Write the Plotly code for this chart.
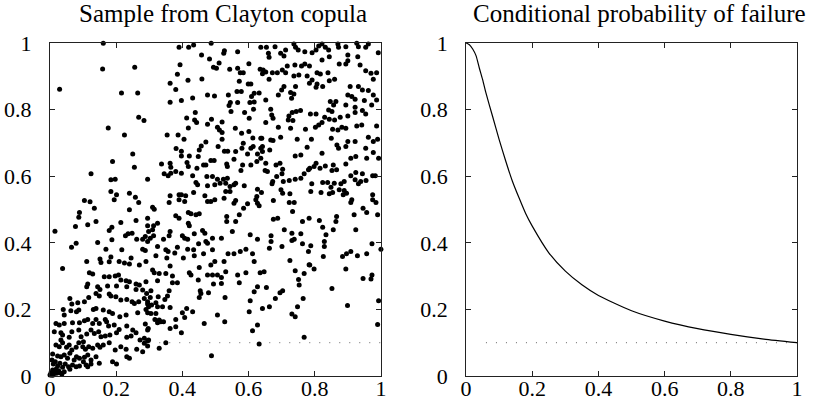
import plotly.graph_objs as go

# --- Sample from the Clayton copula (u, v) ---
sample_uv = [
    # upper left
    (0.161, 0.999), (0.159, 0.922), (0.256, 0.927), (0.029, 0.861), (0.216, 0.850),
    (0.265, 0.850), (0.268, 0.777), (0.284, 0.767), (0.176, 0.745), (0.225, 0.724),
    (0.250, 0.667),
    # upper middle
    (0.390, 0.987), (0.419, 0.987), (0.434, 0.994), (0.487, 0.999), (0.527, 0.977),
    (0.525, 0.969), (0.567, 0.974), (0.637, 0.987), (0.458, 0.964), (0.482, 0.952),
    (0.511, 0.940), (0.393, 0.935), (0.494, 0.927), (0.503, 0.924), (0.601, 0.938),
    (0.543, 0.921), (0.567, 0.924), (0.575, 0.911), (0.584, 0.911), (0.635, 0.921),
    (0.642, 0.908), (0.385, 0.906), (0.417, 0.888), (0.459, 0.892), (0.363, 0.879),
    (0.572, 0.885), (0.599, 0.877), (0.607, 0.877), (0.380, 0.860), (0.565, 0.854),
    (0.578, 0.854), (0.539, 0.844), (0.476, 0.844), (0.497, 0.841), (0.431, 0.835),
    (0.397, 0.827), (0.363, 0.822), (0.617, 0.849), (0.609, 0.839), (0.632, 0.850),
    (0.604, 0.821), (0.617, 0.823), (0.545, 0.821), (0.541, 0.812), (0.567, 0.821),
    (0.439, 0.791), (0.413, 0.775), (0.437, 0.769), (0.443, 0.761), (0.476, 0.756),
    (0.488, 0.771), (0.520, 0.763), (0.588, 0.791), (0.615, 0.801), (0.602, 0.774),
    (0.547, 0.794), (0.418, 0.745), (0.506, 0.747), (0.512, 0.739), (0.520, 0.731),
    (0.560, 0.744), (0.579, 0.729), (0.601, 0.734), (0.354, 0.724), (0.387, 0.724),
    (0.405, 0.711), (0.520, 0.711), (0.613, 0.715), (0.637, 0.714), (0.471, 0.703),
    (0.457, 0.691), (0.451, 0.679), (0.381, 0.683), (0.397, 0.675), (0.508, 0.689),
    (0.527, 0.675), (0.537, 0.675), (0.580, 0.684), (0.607, 0.684), (0.614, 0.689),
    (0.584, 0.699), (0.637, 0.684), (0.597, 0.667), (0.627, 0.667),
    # upper right
    (0.654, 0.987), (0.680, 0.989), (0.660, 0.969), (0.662, 0.957), (0.697, 0.969),
    (0.707, 0.961), (0.712, 0.979), (0.737, 0.997), (0.742, 0.987), (0.750, 0.979),
    (0.770, 0.974), (0.792, 0.971), (0.804, 0.979), (0.812, 0.991), (0.822, 0.997),
    (0.832, 0.987), (0.842, 0.979), (0.844, 0.959), (0.870, 0.997), (0.872, 0.987),
    (0.894, 0.989), (0.900, 0.964), (0.927, 0.999), (0.932, 0.989), (0.930, 0.959),
    (0.954, 0.987), (0.962, 0.997), (0.992, 0.971), (0.644, 0.919), (0.652, 0.913),
    (0.672, 0.911), (0.687, 0.911), (0.702, 0.919), (0.712, 0.911), (0.717, 0.931),
    (0.740, 0.934), (0.760, 0.931), (0.770, 0.937), (0.784, 0.931), (0.807, 0.911),
    (0.817, 0.907), (0.822, 0.949), (0.840, 0.911), (0.844, 0.887), (0.874, 0.937),
    (0.894, 0.937), (0.900, 0.947), (0.937, 0.934), (0.954, 0.917), (0.970, 0.909),
    (0.977, 0.891), (0.987, 0.911), (0.662, 0.891), (0.737, 0.901), (0.752, 0.904),
    (0.777, 0.901), (0.792, 0.889), (0.807, 0.877), (0.804, 0.867), (0.860, 0.891),
    (0.907, 0.869), (0.932, 0.869), (0.944, 0.859), (0.962, 0.857), (0.977, 0.844),
    (0.987, 0.829), (0.700, 0.859), (0.707, 0.869), (0.690, 0.844), (0.727, 0.851),
    (0.737, 0.847), (0.730, 0.834), (0.742, 0.869), (0.784, 0.879), (0.824, 0.869),
    (0.847, 0.824), (0.857, 0.814), (0.842, 0.799), (0.852, 0.794), (0.864, 0.824),
    (0.900, 0.844), (0.912, 0.839), (0.922, 0.831), (0.894, 0.814), (0.922, 0.807),
    (0.950, 0.827), (0.972, 0.814), (0.652, 0.829), (0.667, 0.801), (0.670, 0.784),
    (0.652, 0.761), (0.674, 0.774), (0.722, 0.781), (0.732, 0.791), (0.744, 0.794),
    (0.757, 0.797), (0.720, 0.769), (0.734, 0.767), (0.787, 0.787), (0.804, 0.787),
    (0.822, 0.761), (0.830, 0.777), (0.844, 0.771), (0.860, 0.769), (0.877, 0.777),
    (0.900, 0.781), (0.922, 0.791), (0.944, 0.797), (0.954, 0.787), (0.987, 0.751),
    (0.690, 0.747), (0.727, 0.744), (0.772, 0.741), (0.802, 0.747), (0.812, 0.754),
    (0.854, 0.741), (0.870, 0.739), (0.882, 0.747), (0.894, 0.744), (0.927, 0.751),
    (0.942, 0.754), (0.640, 0.714), (0.667, 0.709), (0.674, 0.707), (0.697, 0.717),
    (0.747, 0.711), (0.790, 0.711), (0.777, 0.687), (0.850, 0.714), (0.867, 0.694),
    (0.872, 0.684), (0.894, 0.689), (0.900, 0.704), (0.922, 0.704), (0.962, 0.717),
    (0.977, 0.704), (0.990, 0.711), (0.664, 0.679), (0.642, 0.689), (0.822, 0.669),
    (0.954, 0.684), (0.977, 0.671),
    # middle left
    (0.189, 0.644), (0.255, 0.627), (0.124, 0.607), (0.184, 0.589), (0.197, 0.591),
    (0.295, 0.591), (0.184, 0.554), (0.201, 0.544), (0.194, 0.529), (0.240, 0.549),
    (0.258, 0.537), (0.268, 0.521), (0.104, 0.527), (0.121, 0.523), (0.134, 0.504),
    (0.089, 0.491), (0.087, 0.477), (0.077, 0.449), (0.114, 0.454), (0.139, 0.464),
    (0.214, 0.461), (0.240, 0.499), (0.260, 0.467), (0.295, 0.474), (0.015, 0.435),
    (0.179, 0.437), (0.187, 0.447), (0.187, 0.409), (0.228, 0.421), (0.236, 0.427),
    (0.248, 0.429), (0.262, 0.411), (0.280, 0.411), (0.295, 0.451), (0.298, 0.434),
    (0.288, 0.419), (0.065, 0.387), (0.079, 0.399), (0.144, 0.401), (0.169, 0.381),
    (0.217, 0.379), (0.245, 0.354), (0.184, 0.357), (0.280, 0.381), (0.288, 0.377),
    (0.295, 0.404), (0.111, 0.344), (0.151, 0.351), (0.154, 0.341), (0.209, 0.344),
    (0.225, 0.339), (0.290, 0.344),
    # centre
    (0.397, 0.661), (0.421, 0.661), (0.448, 0.659), (0.561, 0.674), (0.642, 0.674),
    (0.337, 0.637), (0.363, 0.639), (0.365, 0.627), (0.380, 0.614), (0.365, 0.609),
    (0.357, 0.601), (0.345, 0.607), (0.397, 0.609), (0.414, 0.641), (0.418, 0.629),
    (0.444, 0.624), (0.464, 0.634), (0.471, 0.634), (0.486, 0.647), (0.496, 0.647),
    (0.534, 0.637), (0.536, 0.629), (0.556, 0.651), (0.582, 0.634), (0.577, 0.617),
    (0.607, 0.634), (0.625, 0.644), (0.637, 0.654), (0.431, 0.601), (0.474, 0.599),
    (0.491, 0.599), (0.506, 0.591), (0.514, 0.579), (0.524, 0.591), (0.531, 0.579),
    (0.536, 0.594), (0.544, 0.569), (0.556, 0.574), (0.561, 0.579), (0.587, 0.571),
    (0.441, 0.581), (0.446, 0.574), (0.476, 0.571), (0.498, 0.574), (0.531, 0.554),
    (0.544, 0.554), (0.627, 0.561), (0.639, 0.551), (0.625, 0.539), (0.363, 0.541),
    (0.360, 0.521), (0.390, 0.544), (0.397, 0.544), (0.410, 0.541), (0.407, 0.524),
    (0.390, 0.529), (0.434, 0.551), (0.468, 0.541), (0.476, 0.524), (0.486, 0.524),
    (0.498, 0.529), (0.526, 0.534), (0.561, 0.527), (0.556, 0.519), (0.622, 0.529),
    (0.627, 0.519), (0.632, 0.511), (0.310, 0.507), (0.315, 0.501), (0.380, 0.481),
    (0.390, 0.474), (0.418, 0.491), (0.426, 0.487), (0.441, 0.484), (0.451, 0.487),
    (0.418, 0.459), (0.421, 0.451), (0.534, 0.479), (0.534, 0.464), (0.561, 0.464),
    (0.572, 0.484), (0.585, 0.504), (0.597, 0.517), (0.313, 0.451), (0.325, 0.459),
    (0.310, 0.439), (0.303, 0.414), (0.313, 0.421), (0.343, 0.411), (0.360, 0.421),
    (0.363, 0.434), (0.400, 0.421), (0.407, 0.414), (0.416, 0.411), (0.436, 0.427),
    (0.461, 0.437), (0.468, 0.429), (0.471, 0.404), (0.491, 0.414), (0.518, 0.414),
    (0.551, 0.434), (0.605, 0.424), (0.627, 0.411), (0.325, 0.389), (0.350, 0.379),
    (0.357, 0.374), (0.385, 0.387), (0.416, 0.381), (0.434, 0.379), (0.449, 0.397),
    (0.476, 0.399), (0.491, 0.379), (0.538, 0.367), (0.556, 0.367), (0.575, 0.374),
    (0.592, 0.381), (0.612, 0.367), (0.320, 0.361), (0.353, 0.354), (0.377, 0.369),
    (0.403, 0.354), (0.436, 0.361), (0.464, 0.367), (0.498, 0.344), (0.526, 0.344),
    (0.617, 0.344),
    # middle right
    (0.741, 0.661), (0.758, 0.664), (0.909, 0.654), (0.924, 0.659), (0.957, 0.654),
    (0.993, 0.654), (0.652, 0.639), (0.650, 0.617), (0.657, 0.614), (0.683, 0.634),
    (0.695, 0.639), (0.703, 0.621), (0.701, 0.607), (0.685, 0.599), (0.673, 0.584),
    (0.671, 0.577), (0.705, 0.584), (0.723, 0.587), (0.741, 0.591), (0.758, 0.594),
    (0.768, 0.607), (0.781, 0.619), (0.785, 0.624), (0.798, 0.629), (0.804, 0.639),
    (0.816, 0.624), (0.832, 0.631), (0.856, 0.634), (0.852, 0.617), (0.866, 0.619),
    (0.894, 0.637), (0.909, 0.601), (0.924, 0.611), (0.944, 0.607), (0.939, 0.584),
    (0.955, 0.587), (0.975, 0.601), (0.983, 0.601), (0.922, 0.589), (0.932, 0.577),
    (0.889, 0.584), (0.879, 0.577), (0.859, 0.579), (0.675, 0.527), (0.698, 0.559),
    (0.703, 0.549), (0.725, 0.547), (0.723, 0.521), (0.738, 0.521), (0.788, 0.554),
    (0.791, 0.577), (0.819, 0.551), (0.824, 0.581), (0.839, 0.581), (0.849, 0.567),
    (0.844, 0.547), (0.854, 0.551), (0.874, 0.559), (0.889, 0.557), (0.886, 0.544),
    (0.896, 0.549), (0.912, 0.529), (0.909, 0.521), (0.975, 0.544), (0.975, 0.529),
    (0.985, 0.521), (0.733, 0.494), (0.946, 0.504), (0.957, 0.491), (0.990, 0.484),
    (0.919, 0.484), (0.675, 0.471), (0.688, 0.474), (0.763, 0.464), (0.783, 0.474),
    (0.814, 0.467), (0.866, 0.479), (0.864, 0.464), (0.824, 0.447), (0.856, 0.439),
    (0.924, 0.439), (0.708, 0.439), (0.731, 0.429), (0.758, 0.427), (0.738, 0.411),
    (0.731, 0.407), (0.834, 0.424), (0.668, 0.421), (0.668, 0.404), (0.663, 0.384),
    (0.701, 0.389), (0.763, 0.397), (0.788, 0.391), (0.829, 0.404), (0.829, 0.389),
    (0.781, 0.374), (0.826, 0.359), (0.973, 0.397), (1.000, 0.381), (0.884, 0.359),
    (0.896, 0.367), (0.909, 0.374), (0.929, 0.361), (0.957, 0.367), (0.725, 0.347),
    (0.783, 0.334),
    # lower left
    (0.038, 0.323), (0.179, 0.343), (0.240, 0.336), (0.270, 0.333), (0.119, 0.310),
    (0.129, 0.306), (0.164, 0.298), (0.179, 0.298), (0.197, 0.300), (0.207, 0.303),
    (0.214, 0.288), (0.230, 0.286), (0.240, 0.283), (0.260, 0.276), (0.270, 0.273),
    (0.290, 0.283), (0.114, 0.276), (0.111, 0.268), (0.144, 0.268), (0.151, 0.260),
    (0.174, 0.270), (0.201, 0.270), (0.232, 0.268), (0.260, 0.260), (0.280, 0.258),
    (0.292, 0.248), (0.060, 0.233), (0.066, 0.216), (0.084, 0.220), (0.104, 0.223),
    (0.117, 0.236), (0.139, 0.248), (0.149, 0.240), (0.179, 0.246), (0.184, 0.240),
    (0.199, 0.238), (0.214, 0.228), (0.232, 0.230), (0.248, 0.223), (0.255, 0.218),
    (0.268, 0.223), (0.285, 0.233), (0.295, 0.223), (0.040, 0.200), (0.043, 0.183),
    (0.063, 0.196), (0.080, 0.193), (0.087, 0.198), (0.131, 0.200), (0.139, 0.203),
    (0.161, 0.198), (0.179, 0.193), (0.189, 0.188), (0.211, 0.178), (0.230, 0.183),
    (0.265, 0.190), (0.290, 0.200), (0.298, 0.208), (0.018, 0.158), (0.028, 0.153),
    (0.013, 0.133), (0.043, 0.158), (0.068, 0.160), (0.089, 0.160), (0.104, 0.166),
    (0.114, 0.170), (0.129, 0.158), (0.139, 0.170), (0.149, 0.158), (0.167, 0.170),
    (0.171, 0.163), (0.177, 0.150), (0.194, 0.153), (0.209, 0.140), (0.232, 0.150),
    (0.250, 0.138), (0.260, 0.130), (0.288, 0.156), (0.295, 0.138), (0.033, 0.130),
    (0.033, 0.108), (0.038, 0.123), (0.058, 0.116), (0.066, 0.133), (0.087, 0.138),
    (0.094, 0.118), (0.101, 0.103), (0.111, 0.126), (0.124, 0.138), (0.134, 0.128),
    (0.147, 0.133), (0.154, 0.118), (0.167, 0.120), (0.181, 0.123), (0.201, 0.130),
    (0.232, 0.116), (0.245, 0.120), (0.272, 0.108), (0.285, 0.113), (0.018, 0.093),
    (0.028, 0.088), (0.038, 0.100), (0.050, 0.086), (0.058, 0.093), (0.066, 0.078),
    (0.079, 0.086), (0.087, 0.100), (0.099, 0.088), (0.107, 0.080), (0.117, 0.088),
    (0.129, 0.083), (0.144, 0.093), (0.151, 0.086), (0.161, 0.093), (0.179, 0.100),
    (0.197, 0.078), (0.214, 0.088), (0.230, 0.080), (0.240, 0.053), (0.262, 0.080),
    (0.285, 0.098), (0.298, 0.108), (0.008, 0.066), (0.023, 0.060), (0.033, 0.058),
    (0.043, 0.063), (0.053, 0.053), (0.060, 0.068), (0.073, 0.048), (0.080, 0.058),
    (0.089, 0.053), (0.104, 0.056), (0.114, 0.063), (0.124, 0.048), (0.139, 0.058),
    (0.149, 0.038), (0.189, 0.043), (0.201, 0.036), (0.232, 0.058), (0.280, 0.073),
    (0.006, 0.048), (0.010, 0.036), (0.016, 0.043), (0.023, 0.030), (0.030, 0.038),
    (0.038, 0.026), (0.046, 0.036), (0.056, 0.028), (0.060, 0.020), (0.068, 0.033),
    (0.079, 0.028), (0.089, 0.030), (0.101, 0.043), (0.109, 0.033), (0.114, 0.028),
    (0.124, 0.036), (0.000, 0.003), (0.003, 0.010), (0.008, 0.018), (0.013, 0.013),
    (0.018, 0.020), (0.020, 0.008), (0.026, 0.016), (0.030, 0.010), (0.036, 0.006),
    (0.043, 0.013), (0.006, 0.002), (0.010, 0.003),
    # lower middle
    (0.486, 0.333), (0.451, 0.326), (0.363, 0.330), (0.310, 0.318), (0.315, 0.310),
    (0.330, 0.308), (0.350, 0.308), (0.370, 0.300), (0.325, 0.286), (0.370, 0.280),
    (0.385, 0.280), (0.421, 0.310), (0.426, 0.303), (0.448, 0.288), (0.476, 0.303),
    (0.491, 0.303), (0.506, 0.303), (0.518, 0.296), (0.494, 0.276), (0.518, 0.278),
    (0.531, 0.313), (0.567, 0.303), (0.592, 0.310), (0.572, 0.280), (0.635, 0.310),
    (0.627, 0.268), (0.617, 0.253), (0.605, 0.226), (0.602, 0.193), (0.642, 0.203),
    (0.627, 0.153), (0.612, 0.136), (0.305, 0.256), (0.327, 0.238), (0.303, 0.236),
    (0.295, 0.216), (0.307, 0.213), (0.320, 0.220), (0.325, 0.208), (0.340, 0.208),
    (0.347, 0.230), (0.355, 0.240), (0.360, 0.256), (0.363, 0.206), (0.454, 0.256),
    (0.456, 0.248), (0.451, 0.236), (0.479, 0.250), (0.529, 0.236), (0.413, 0.203),
    (0.431, 0.193), (0.400, 0.190), (0.295, 0.190), (0.305, 0.188), (0.320, 0.188),
    (0.317, 0.170), (0.330, 0.168), (0.335, 0.163), (0.343, 0.163), (0.325, 0.160),
    (0.297, 0.143), (0.380, 0.170), (0.363, 0.143), (0.380, 0.148), (0.397, 0.130),
    (0.407, 0.176), (0.466, 0.158), (0.506, 0.183), (0.528, 0.163), (0.295, 0.106),
    (0.295, 0.090), (0.350, 0.100), (0.330, 0.083), (0.632, 0.096), (0.488, 0.061),
    # lower right
    (0.785, 0.333), (0.798, 0.321), (0.894, 0.321), (0.647, 0.313), (0.741, 0.316),
    (0.768, 0.308), (0.751, 0.290), (0.753, 0.273), (0.973, 0.303), (0.946, 0.293),
    (0.970, 0.291), (0.654, 0.266), (0.852, 0.263), (0.703, 0.256), (0.695, 0.250),
    (0.681, 0.233), (0.765, 0.233), (0.993, 0.226), (0.899, 0.212), (0.663, 0.208),
    (0.748, 0.208), (0.731, 0.186), (0.741, 0.178), (0.990, 0.155), (0.768, 0.116),
]
sample_u = [p[0] for p in sample_uv]
sample_v = [p[1] for p in sample_uv]

# --- Conditional probability of failure ---
curve_u = [0, 0.01, 0.02, 0.03, 0.04, 0.05, 0.06, 0.08, 0.10, 0.12, 0.14, 0.16,
           0.18, 0.20, 0.25, 0.30, 0.35, 0.40, 0.50, 0.60, 0.70, 0.80, 0.90, 1.0]
curve_p = [1.0, 0.995, 0.982, 0.962, 0.925, 0.89, 0.85, 0.78, 0.71, 0.645, 0.585, 0.535,
           0.488, 0.45, 0.37, 0.315, 0.274, 0.242, 0.196, 0.165, 0.142, 0.125, 0.111, 0.10]

# failure threshold (dotted lines)
threshold = 0.1
thr_left_u = [0.30, 1.0]
thr_right_u = [0.06, 1.0]

tick_vals = [0, 0.2, 0.4, 0.6, 0.8, 1]
tick_text = ["0", "0.2", "0.4", "0.6", "0.8", "1"]

FONT = "Liberation Serif"

fig = go.Figure()
fig.add_trace(go.Scatter(
    x=thr_left_u, y=[threshold] * len(thr_left_u), mode="lines",
    line=dict(color="#666666", width=1, dash="1px,9px"),
    xaxis="x", yaxis="y", hoverinfo="skip"))
fig.add_trace(go.Scatter(
    x=sample_u, y=sample_v, mode="markers",
    marker=dict(color="black", size=5), cliponaxis=False,
    xaxis="x", yaxis="y"))
fig.add_trace(go.Scatter(
    x=thr_right_u, y=[threshold] * len(thr_right_u), mode="lines",
    line=dict(color="#666666", width=1, dash="1px,9px"),
    xaxis="x2", yaxis="y2", hoverinfo="skip"))
fig.add_trace(go.Scatter(
    x=curve_u, y=curve_p, mode="lines",
    line=dict(color="black", width=1.2, shape="spline", smoothing=0.6),
    xaxis="x2", yaxis="y2"))

axis_style = dict(
    range=[0, 1], tickvals=tick_vals, ticktext=tick_text,
    showline=True, linecolor="#222222", linewidth=1, mirror="ticks",
    ticks="inside", ticklen=5, tickcolor="#222222", tickwidth=1,
    showgrid=False, zeroline=False, automargin=False,
    tickfont=dict(family=FONT, size=22, color="black"),
)
xaxis_style = dict(axis_style, ticklabelstandoff=-7)
yaxis_style = dict(axis_style, ticklabelstandoff=13)

fig.update_layout(
    width=815, height=402,
    margin=dict(l=50, r=18, t=43, b=26),
    paper_bgcolor="white", plot_bgcolor="white",
    showlegend=False,
    xaxis=dict(domain=[0, 0.443], anchor="y", **xaxis_style),
    yaxis=dict(domain=[0, 1], anchor="x", **yaxis_style),
    xaxis2=dict(domain=[0.557, 1], anchor="y2", **xaxis_style),
    yaxis2=dict(domain=[0, 1], anchor="x2", **yaxis_style),
    annotations=[
        dict(text="Sample from Clayton copula", x=0.2215, y=1, xref="paper", yref="paper",
             xanchor="center", yanchor="bottom", xshift=8, yshift=14, showarrow=False,
             font=dict(family=FONT, size=25, color="black")),
        dict(text="Conditional probability of failure", x=0.7785, y=1, xref="paper", yref="paper",
             xanchor="center", yanchor="bottom", xshift=8, yshift=14, showarrow=False,
             font=dict(family=FONT, size=25, color="black")),
    ],
)

# the page's default body margin would shift the figure by 8 px
fig.write_html("out.html",
               config={"displayModeBar": False},
               post_script="document.body.style.margin='0px';"
                           "document.body.style.overflow='hidden';")
